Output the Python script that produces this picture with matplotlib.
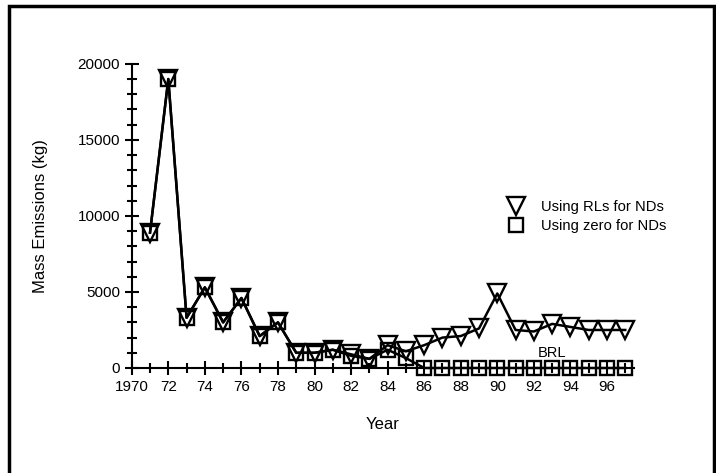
import matplotlib.pyplot as plt
from matplotlib.patches import Rectangle
from matplotlib.ticker import MultipleLocator, FixedLocator

plt.rcParams['font.family'] = ['Liberation Sans', 'DejaVu Sans']

years = list(range(1971, 1998))
# emissions using reporting limits for non-detects (kg)
rl_vals = [8900, 19000, 3300, 5300, 3000, 4600, 2100, 3000, 1000, 1000,
           1200, 900, 600, 1500, 1100, 1500, 2000, 2100, 2600, 4900,
           2500, 2400, 2900, 2700, 2500, 2500, 2500]
# emissions using zero for non-detects (kg)
zero_vals = [8900, 19000, 3300, 5300, 3000, 4600, 2100, 3000, 1000, 1000,
             1200, 800, 600, 1200, 650, 0, 0, 0, 0, 0,
             0, 0, 0, 0, 0, 0, 0]
tick_years = list(range(1970, 1997, 2))
tick_labels = ['1970'] + [str(y % 100) for y in tick_years[1:]]

fig = plt.figure(figsize=(7.16, 4.73), dpi=100)
ax = fig.add_axes([0.184, 0.222, 0.702, 0.643])

ax.plot(years, zero_vals, color='black', lw=1.8, marker='s', ms=9.5,
        mfc='none', mec='black', mew=1.7, label='Using zero for NDs', zorder=3)
ax.plot(years, rl_vals, color='black', lw=1.8, marker='v', ms=12.5,
        mfc='none', mec='black', mew=1.7, label='Using RLs for NDs', zorder=4)

ax.set_xlim(1970, 1997.5)
ax.set_ylim(0, 20000)
ax.xaxis.set_major_locator(FixedLocator(tick_years))
ax.set_xticklabels(tick_labels)
ax.xaxis.set_minor_locator(MultipleLocator(1))
ax.yaxis.set_major_locator(MultipleLocator(5000))
ax.yaxis.set_minor_locator(MultipleLocator(1000))
ax.tick_params(which='major', direction='inout', length=10, width=1.5, labelsize=11)
ax.tick_params(which='minor', direction='inout', length=7, width=1.5)
for s in ['top', 'right']:
    ax.spines[s].set_visible(False)
for s in ['left', 'bottom']:
    ax.spines[s].set_linewidth(1.5)
for ln in ax.lines:
    ln.set_clip_on(False)

ax.set_xlabel('Year', fontsize=12, labelpad=17)
ax.set_ylabel('Mass Emissions (kg)', fontsize=12, labelpad=21)

ax.text(1993, 1000, 'BRL', fontsize=10.5, ha='center', va='center', zorder=6)

h, l = ax.get_legend_handles_labels()
ax.legend(h[::-1], l[::-1], loc='center left', bbox_to_anchor=(0.724, 0.498),
          frameon=False, fontsize=10.6, handlelength=1.0, handletextpad=1.2,
          labelspacing=0.3)
leg = ax.get_legend()
for lh in leg.legend_handles:
    lh.set_linestyle('none')

fig.patches.append(Rectangle((9 / 716, -0.1), 705 / 716, 1.1 - 6 / 473,
                             transform=fig.transFigure, fill=False,
                             ec='black', lw=2.5))

fig.savefig('out.png', dpi=100)
